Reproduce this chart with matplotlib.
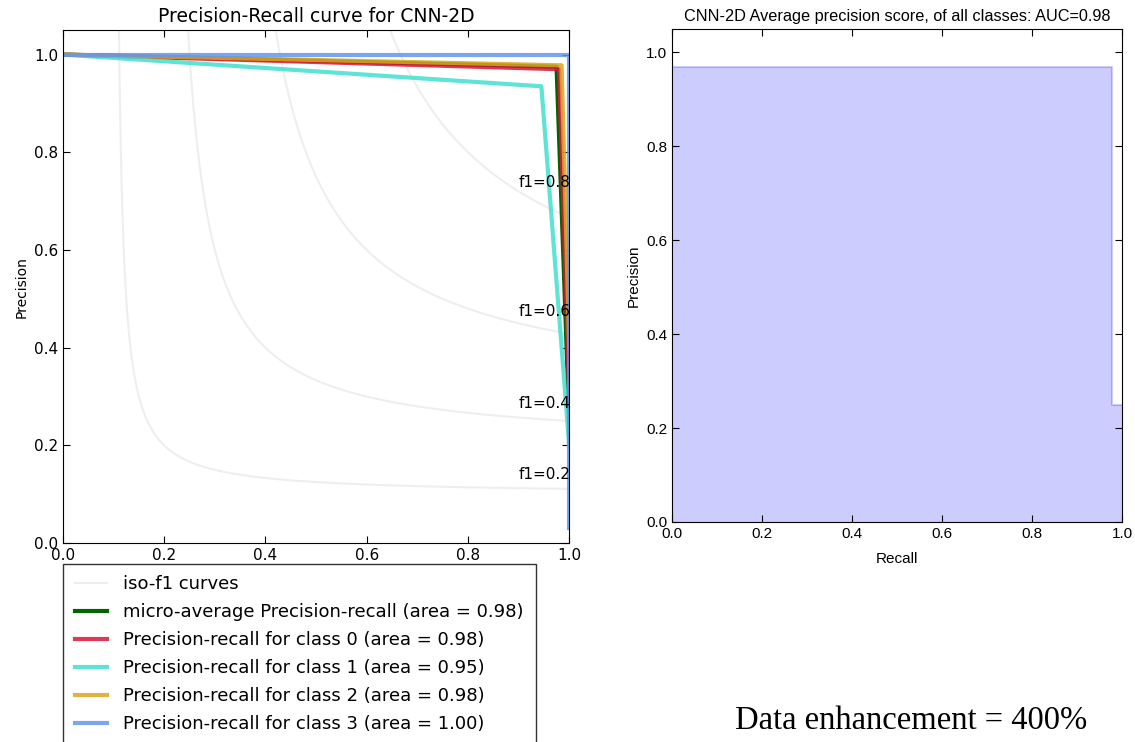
import numpy as np
import matplotlib
matplotlib.use('Agg')
import matplotlib.pyplot as plt

# iso-f1 guide levels
f_scores = [0.2, 0.4, 0.6, 0.8]

# PR curve points (recall, precision)
micro_recall = [0.0, 0.975, 1.0]
micro_precision = [1.0, 0.975, 0.25]
class_recall = {
    0: [0.0, 0.98, 1.0],
    1: [0.0, 0.945, 1.0],
    2: [0.0, 0.985, 1.0],
    3: [0.0, 1.0, 1.0],
}
class_precision = {
    0: [1.0, 0.97, 0.3],
    1: [1.0, 0.935, 0.2],
    2: [1.0, 0.978, 0.4],
    3: [1.0, 1.0, 0.03],
}
class_area = {0: 0.98, 1: 0.95, 2: 0.98, 3: 1.00}
micro_area = 0.98
class_colors = {0: 'crimson', 1: 'turquoise', 2: 'goldenrod', 3: 'cornflowerblue'}

# step curve on the right
step_recall = [0.0, 0.978, 0.978, 1.0]
step_precision = [0.97, 0.97, 0.25, 0.25]

fig = plt.figure(figsize=(11.35, 7.42), dpi=100)
fig.patch.set_facecolor('white')

ax1 = fig.add_axes([0.0555, 0.268, 0.446, 0.6914])
lines, labels = [], []
for f_score in f_scores:
    x = np.linspace(0.01, 1, 400)
    y = f_score * x / (2 * x - f_score)
    l, = ax1.plot(x[y >= 0], y[y >= 0], color='gray', alpha=0.13)
    x_lab = 0.919
    y_lab = f_score * x_lab / (2 * x_lab - f_score)
    ax1.annotate('f1={0:0.1f}'.format(f_score), xy=(0.9, y_lab + 0.02), fontsize=11)
lines.append(l)
labels.append('iso-f1 curves')

l, = ax1.plot(micro_recall, micro_precision, color='darkgreen', lw=3)
lines.append(l)
labels.append('micro-average Precision-recall (area = {0:0.2f})'.format(micro_area))

for i in range(4):
    l, = ax1.plot(class_recall[i], class_precision[i], color=class_colors[i], lw=3, alpha=0.85)
    lines.append(l)
    labels.append('Precision-recall for class {0} (area = {1:0.2f})'.format(i, class_area[i]))

ax1.set_xlim(0.0, 1.0)
ax1.set_ylim(0.0, 1.05)
ax1.set_ylabel('Precision', fontsize=10)
ax1.set_title('Precision-Recall curve for CNN-2D', fontsize=13.5)
ax1.tick_params(direction='in', top=True, right=True, labelsize=11, length=5)
ax1.set_xticks([0.0, 0.2, 0.4, 0.6, 0.8, 1.0])
leg = ax1.legend(lines, labels, loc='upper left', bbox_to_anchor=(0, -0.04),
                 prop=dict(size=13), fancybox=False, handlelength=1.8,
                 handletextpad=0.9, borderpad=0.65, labelspacing=0.55,
                 borderaxespad=0, edgecolor='black')
leg.get_frame().set_linewidth(1.0)
leg.set_zorder(10)

ax2 = fig.add_axes([0.592, 0.2965, 0.3965, 0.6645])
ax2.step(step_recall, step_precision, color='b', alpha=0.2, where='post')
ax2.fill_between(step_recall, step_precision, step='post', alpha=0.2, color='b', lw=0)
ax2.set_xlim(0.0, 1.0)
ax2.set_ylim(0.0, 1.05)
narrow = 'Liberation Sans'
ax2.set_xlabel('Recall', fontsize=11, family=narrow, labelpad=8)
ax2.set_ylabel('Precision', fontsize=11, family=narrow)
ax2.set_title('CNN-2D Average precision score, of all classes: AUC={0:0.2f}'.format(micro_area),
              fontsize=11.7, family=narrow)
ax2.tick_params(direction='in', top=True, right=True, labelsize=11, length=5)
for t in ax2.get_xticklabels() + ax2.get_yticklabels():
    t.set_family(narrow)

fig.text(0.648, 0.018, 'Data enhancement = 400%', fontsize=23.5, family='Liberation Serif')

fig.savefig('out.png', dpi=100, facecolor='white')
